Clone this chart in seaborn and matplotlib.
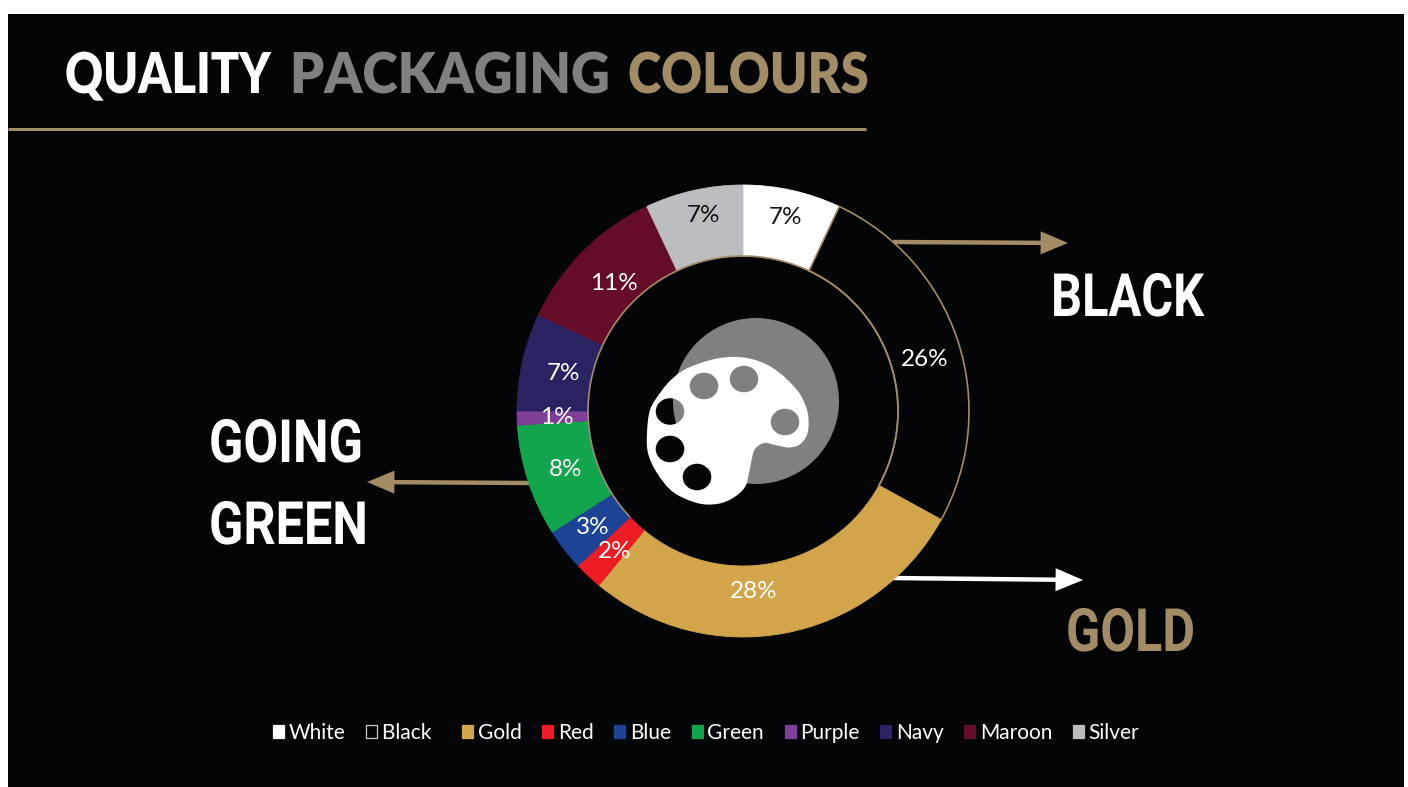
import numpy as np
import matplotlib
matplotlib.use("Agg")
import matplotlib.pyplot as plt
import seaborn as sns
from matplotlib.patches import Rectangle, Circle, PathPatch, Patch, Arc
from matplotlib.path import Path
from matplotlib.patheffects import AbstractPathEffect
from matplotlib.transforms import Affine2D

# Share of packaging colours, clockwise from twelve o'clock
colour_names = ["White", "Black", "Gold", "Red", "Blue", "Green", "Purple", "Navy", "Maroon", "Silver"]
shares = [7, 26, 28, 2, 3, 8, 1, 7, 11, 7]
legend_labels = ["White", "Black\u00a0\u00a0", "Gold", "Red", "Blue", "Green", "Purple", "Navy", "Maroon", "Silver"]

title_words = ["QUALITY", "PACKAGING", "COLOURS"]
callouts = ["BLACK", "GOING", "GREEN", "GOLD"]

TAN = "#A38B66"
GREY = "#808080"
BG = "#030507"
slice_colours = sns.color_palette(["#FFFFFF", "#030507", "#D2A54A", "#ED1C24", "#1D4396",
                                   "#13A54E", "#7F3F98", "#2A2362", "#650D28", "#BCBDC0"])

sns.set_theme(style="white")
plt.rcParams["font.family"] = ["Lato", "DejaVu Sans"]

W, H = 1408, 787
fig = plt.figure(figsize=(W / 100, H / 100), dpi=100, facecolor="white")

# Slide layer, addressed in pixels from the top-left corner
slide = fig.add_axes([0, 0, 1, 1], zorder=1)
slide.set_xlim(0, W)
slide.set_ylim(H, 0)
slide.axis("off")
slide.add_patch(Rectangle((8, 14), 1396, H - 14, facecolor=BG, edgecolor="none"))


class Squeeze(AbstractPathEffect):
    """Condenses glyph outlines horizontally about a fixed display x."""

    def __init__(self, anchor_x, factor):
        super().__init__()
        self.anchor_x = anchor_x
        self.factor = factor

    def draw_path(self, renderer, gc, tpath, affine, rgbFace=None):
        squeeze = Affine2D().translate(-self.anchor_x, 0).scale(self.factor, 1).translate(self.anchor_x, 0)
        renderer.draw_path(gc, tpath, affine + squeeze, rgbFace)


def fitted_word(word, x, baseline, width, **style):
    """Places a word at a pixel position, condensed to span the given width."""
    txt = slide.text(x, baseline, word, ha="left", va="baseline", **style)
    extent = txt.get_window_extent(fig.canvas.get_renderer())
    txt.set_path_effects([Squeeze(extent.x0, width / extent.width)])
    return txt


for word, x, span, col in zip(title_words, [65, 290, 628], [206, 320, 241], ["white", GREY, TAN]):
    fitted_word(word, x, 93, span, color=col, fontsize=40.5, fontweight="heavy", family="Lato")
slide.plot([8, 866], [129, 129], color=TAN, lw=2.2, solid_capstyle="butt")

# Callout headings
for word, x, y, span, col in zip(callouts, [1051, 209, 209, 1066], [316, 462, 544, 651],
                                 [153, 154, 159, 129], ["white", "white", "white", TAN]):
    fitted_word(word, x, y, span, color=col, fontsize=43, fontweight="bold", family="Roboto")

# Callout arrows with sharp triangular heads
for start, end, col in [((893, 242), (1068, 243), TAN),
                        ((890, 578), (1083, 580), "white"),
                        ((530, 483), (367, 482), TAN)]:
    slide.annotate("", xy=end, xytext=start,
                   arrowprops=dict(arrowstyle="-|>,head_length=1.0,head_width=0.42", color=col,
                                   lw=3.2, shrinkA=0, shrinkB=0, mutation_scale=14,
                                   joinstyle="miter", capstyle="butt"))

# Doughnut in its own axes so that one data unit equals the outer radius
cx, cy, R = 743, 411, 226
ring = fig.add_axes([(cx - R) / W, 1 - (cy + R) / H, 2 * R / W, 2 * R / H], zorder=2)
ring.patch.set_alpha(0)
wedges, _, pct_texts = ring.pie(shares, colors=slice_colours, startangle=90, counterclock=False,
                                radius=1, autopct=lambda p: f"{p:.0f}%", pctdistance=0.84,
                                wedgeprops=dict(width=71 / 226, linewidth=0.6))
ring.set_xlim(-1, 1)
ring.set_ylim(-1, 1)
for wedge, col, name in zip(wedges, slice_colours, colour_names):
    if name == "Black":
        wedge.set_edgecolor(TAN)
        wedge.set_linewidth(1.2)
    else:
        wedge.set_edgecolor(col)

# Thin rim along the inner edge of the cool-coloured part of the ring
fractions = np.cumsum(shares) / sum(shares)
rim_from = 90 - 360 * fractions[colour_names.index("Black")]
rim_to = 90 - 360 * fractions[colour_names.index("Red")] + 360
ring.add_patch(Arc((0, 0), 2 * 155 / 226, 2 * 155 / 226, theta1=rim_from, theta2=rim_to,
                   color=TAN, lw=1.2, zorder=5))

label_pixels = [(785, 218), (925, 360), (754, 592), (615, 551), (593, 527),
                (566, 469), (557, 418), (563, 374), (614, 284), (703, 215)]
for txt, (px, py), name in zip(pct_texts, label_pixels, colour_names):
    txt.set_position(((px - cx) / R, (cy - py) / R))
    txt.set_ha("center")
    txt.set_va("center")
    txt.set_fontsize(17.5)
    txt.set_family("Lato")
    txt.set_color("#111111" if name in ("White", "Silver") else "white")


def smooth_closed(points):
    """Closed Catmull-Rom outline through the given points, as a Bezier path."""
    pts = np.asarray(points, float)
    n = len(pts)
    verts, codes = [pts[0]], [Path.MOVETO]
    for i in range(n):
        p0, p1, p2, p3 = pts[i - 1], pts[i], pts[(i + 1) % n], pts[(i + 2) % n]
        verts += [p1 + (p2 - p0) / 6, p2 - (p3 - p1) / 6, p2]
        codes += [Path.CURVE4] * 3
    return Path(verts, codes)


def hole(x, y, rx=14.3, ry=13.3):
    angles = np.linspace(0, -2 * np.pi, 12, endpoint=False)
    return smooth_closed(np.column_stack([x + rx * np.cos(angles), y + ry * np.sin(angles)]))


# Palette icon over a grey disc; the wells are real holes in the palette
slide.add_patch(Circle((756, 401), 83, facecolor=GREY, edgecolor="none", zorder=3))
outline = [(720, 358), (747, 358), (773, 368), (797, 390), (807, 410), (808.5, 427),
           (806, 437), (799, 445), (789, 447.5), (777, 445.5), (764, 443), (755, 449),
           (752, 458), (749, 473), (745, 487), (733, 498), (717, 504), (697, 503),
           (673, 492), (657, 473), (648, 453), (647, 433), (650, 410), (660, 393),
           (673, 378), (690, 367)]
wells = [(704, 386), (744, 379), (785, 422), (670, 411.5), (670, 449), (697, 477)]
palette = Path.make_compound_path(smooth_closed(outline), *[hole(x, y) for x, y in wells])
slide.add_patch(PathPatch(palette, facecolor="white", edgecolor="none", zorder=4))

# Legend
handles = [Patch(facecolor=c, edgecolor="#C8C8C8" if n == "Black" else c, linewidth=0.9)
           for c, n in zip(slice_colours, colour_names)]
leg = slide.legend(handles, legend_labels, ncol=10, loc="center", bbox_to_anchor=(706, 733),
                   bbox_transform=slide.transData, frameon=False, fontsize=15,
                   labelcolor="white", handlelength=0.53, handleheight=0.53,
                   handletextpad=0.22, columnspacing=0.99, borderpad=0, borderaxespad=0)

fig.savefig("out.png", dpi=100, facecolor=fig.get_facecolor())
